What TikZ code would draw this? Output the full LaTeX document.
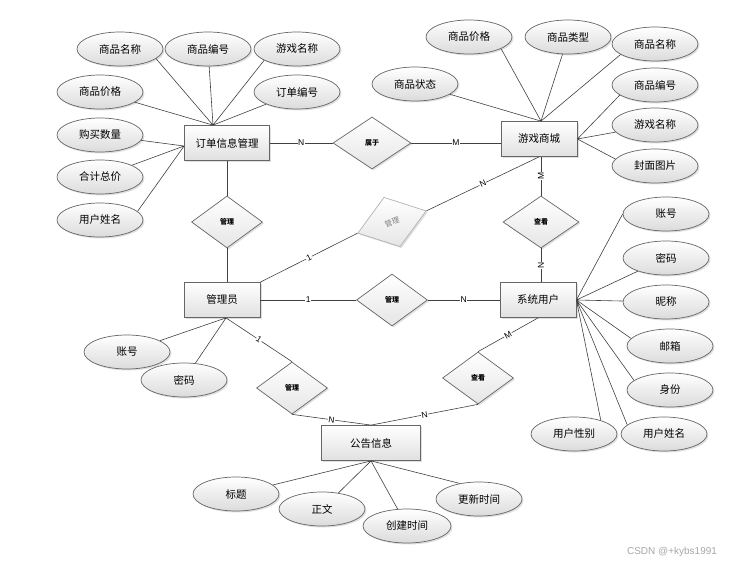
\documentclass[tikz,border=0pt]{standalone}
\usepackage{fontspec}
\setmainfont{Liberation Sans}
\newfontfamily\cjk{Noto Sans CJK SC}
\usetikzlibrary{calc, positioning, shapes.geometric, shadows}

\begin{document}
\begin{tikzpicture}[
    x=1pt, y=-1pt,
    every node/.style={inner sep=0pt, font=\cjk\fontsize{10.5}{12}\selectfont},
    soft/.style={drop shadow={opacity=0.25, shadow xshift=1.5pt, shadow yshift=-1.5pt}},
    entity/.style={soft, draw=black!60, line width=0.8pt, rectangle, minimum width=76pt, minimum height=35pt, top color=white, bottom color=black!12},
    attr/.style={soft, draw=black!60, line width=0.7pt, ellipse, minimum width=86pt, minimum height=34pt, top color=white, bottom color=black!14},
    relation/.style={soft, draw=black!60, line width=0.7pt, diamond, minimum width=71pt, minimum height=52pt, top color=white, bottom color=black!10, font=\cjk\fontsize{7}{8}\selectfont\bfseries},
    faded/.style={relation, draw=black!30, text=black!50, font=\cjk\fontsize{7.5}{8}\selectfont},
    link/.style={draw=black!75, line width=0.6pt},
    card/.style={font=\fontsize{8.5}{9}\selectfont, fill=white, inner sep=0.6pt, sloped}
]
\useasboundingbox (0,0) rectangle (743,564);

% entities
\node[entity, minimum width=85pt] (order) at (227,143) {订单信息管理};
\node[entity] (mall) at (539,139) {游戏商城};
\node[entity] (admin) at (222,300) {管理员};
\node[entity] (user) at (538,300) {系统用户};
\node[entity, minimum width=99pt] (notice) at (371,443) {公告信息};

% relations
\node[relation, minimum width=78pt] (belong) at (372,143) {属于};
\node[relation] (manage1) at (227,222) {管理};
\node[faded, minimum width=72pt, rotate=18] (manage2) at (392,222) {管理};
\node[relation] (manage3) at (392,300) {管理};
\node[relation, minimum width=76pt] (view1) at (541,222) {查看};
\node[relation] (manage4) at (292,388) {管理};
\node[relation] (view2) at (478,378) {查看};

% attributes of the order
\node[attr] (a1) at (120,49) {商品名称};
\node[attr] (a2) at (208,49) {商品编号};
\node[attr] (a3) at (297,49) {游戏名称};
\node[attr] (a4) at (100,92) {商品价格};
\node[attr] (a5) at (297,92) {订单编号};
\node[attr] (a6) at (100,135) {购买数量};
\node[attr] (a7) at (100,177) {合计总价};
\node[attr] (a8) at (100,220) {用户姓名};

% attributes of the mall
\node[attr] (b1) at (415,84) {商品状态};
\node[attr] (b2) at (469,37) {商品价格};
\node[attr] (b3) at (568,37) {商品类型};
\node[attr] (b4) at (655,44) {商品名称};
\node[attr] (b5) at (655,85) {商品编号};
\node[attr] (b6) at (655,125) {游戏名称};
\node[attr] (b7) at (655,166) {封面图片};

% attributes of the user
\node[attr] (c1) at (666,214) {账号};
\node[attr] (c2) at (666,258) {密码};
\node[attr] (c3) at (666,302) {昵称};
\node[attr] (c4) at (670,346) {邮箱};
\node[attr] (c5) at (670,390) {身份};
\node[attr] (c6) at (574,434) {用户性别};
\node[attr] (c7) at (664,434) {用户姓名};

% attributes of the admin and the notice
\node[attr] (d1) at (127,352) {账号};
\node[attr] (d2) at (184,380) {密码};
\node[attr] (e1) at (236,494) {标题};
\node[attr] (e2) at (322,509) {正文};
\node[attr, minimum width=88pt] (e3) at (407,526) {创建时间};
\node[attr] (e4) at (479,499) {更新时间};

\node[font=\fontsize{10}{12}\selectfont, text=black!35] (mark) at (672,552) {CSDN @+kybs1991};

\coordinate (ordtop) at ([xshift=-14pt]order.north);
\coordinate (ordleft) at ([yshift=-3pt]order.west);
\coordinate (malltop) at ([xshift=2pt]mall.north);
\coordinate (admbot) at ([xshift=4pt]admin.south);

\draw[link] (a1.345) -- (ordtop) (a2) -- (ordtop) (a3.199) -- (ordtop) (a4) -- (ordtop) (a5) -- (ordtop);
\draw[link] (a6) -- (ordleft) (a7) -- (ordleft) (a8.13) -- (ordleft);
\draw[link] (b1) -- (malltop) (b2.340) -- (malltop) (b3) -- (malltop) (b4.197) -- (malltop);
\draw[link] (b5.196) -- (mall.east) (b6) -- (mall.east) (b7.170) -- (mall.east);
\draw[link] (c1.west) -- (user.east) (c2) -- (user.east) (c3) -- (user.east) (c4.169) -- (user.east);
\draw[link] (c5.165) -- (user.east) (c6.27) -- (user.east) (c7.166) -- (user.east);
\draw[link] (d1) -- (admbot) (d2) -- (admbot);
\draw[link] (e1) -- (notice.south) (e2) -- (notice.south) (e3) -- (notice.south) (e4.141) -- (notice.south);

\draw[link] (order.east) -- node[card] {N} (belong.west);
\draw[link] (belong.east) -- node[card] {M} (belong.east -| mall.west);
\draw[link] (order.south) -- (manage1.north);
\draw[link] (manage1.south) -- (manage1.south |- admin.north);
\draw[link] (admin.north east) -- node[card] {1} (manage2.west);
\draw[link] (manage2.east) -- node[card] {N} (mall.south);
\draw[link] (view1.north) -- node[card] {M} (view1.north |- mall.south);
\draw[link] (view1.south |- user.north) -- node[card] {N} (view1.south);
\draw[link] (admin.east) -- node[card] {1} (manage3.west);
\draw[link] (manage3.east) -- node[card] {N} (user.west);
\draw[link] (admbot) -- node[card] {1} (manage4.north);
\draw[link] (manage4.south) -- node[card] {N} (notice.north);
\draw[link] (user.south) -- node[card] {M} (view2.north);
\draw[link] (view2.south) -- node[card] {N} (notice.north);

\end{tikzpicture}
\end{document}
